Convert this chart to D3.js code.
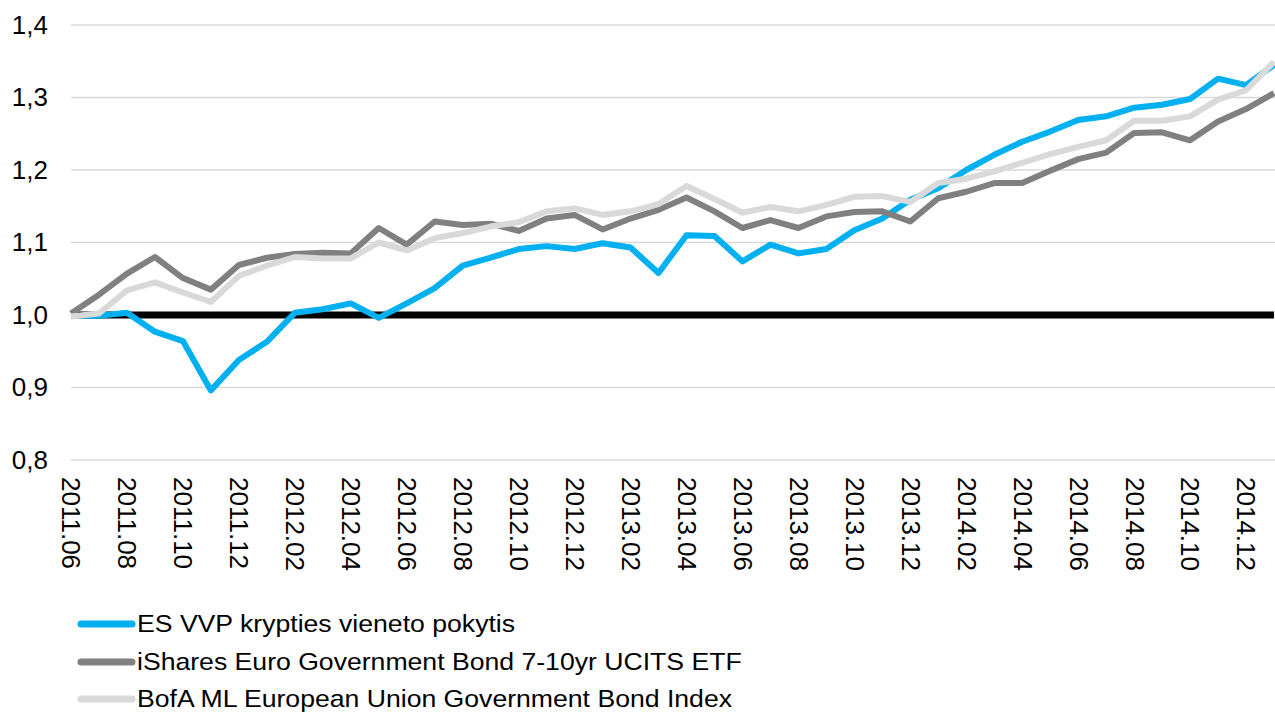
<!DOCTYPE html>
<html>
<head>
<meta charset="utf-8">
<script src="https://cdn.jsdelivr.net/npm/d3@7"></script>
<style>
  body { margin: 0; background: #fff; }
  text { font-family: "Liberation Sans", Arial, sans-serif; fill: #000; }
</style>
</head>
<body>
<div id="chart"></div>
<script>
// monthly categories, Jun 2011 - Jan 2015
const months = [
  "2011.06","2011.07","2011.08","2011.09","2011.10","2011.11","2011.12",
  "2012.01","2012.02","2012.03","2012.04","2012.05","2012.06","2012.07","2012.08","2012.09","2012.10","2012.11","2012.12",
  "2013.01","2013.02","2013.03","2013.04","2013.05","2013.06","2013.07","2013.08","2013.09","2013.10","2013.11","2013.12",
  "2014.01","2014.02","2014.03","2014.04","2014.05","2014.06","2014.07","2014.08","2014.09","2014.10","2014.11","2014.12",
  "2015.01"
];

const esVvp = [
  0.999, 0.999, 1.003, 0.977, 0.964, 0.896, 0.938, 0.963, 1.003, 1.008, 1.016, 0.996,
  1.016, 1.037, 1.068, 1.079, 1.091, 1.095, 1.091, 1.099, 1.093, 1.058, 1.110, 1.109,
  1.074, 1.097, 1.085, 1.091, 1.117, 1.133, 1.159, 1.175, 1.200, 1.221, 1.239, 1.253,
  1.269, 1.274, 1.286, 1.290, 1.298, 1.326, 1.317, 1.345
];

const iShares = [
  1.002, 1.028, 1.057, 1.080, 1.051, 1.035, 1.069, 1.079, 1.084, 1.086, 1.085, 1.120,
  1.097, 1.129, 1.124, 1.126, 1.116, 1.133, 1.138, 1.118, 1.133, 1.145, 1.162, 1.143,
  1.120, 1.131, 1.120, 1.136, 1.142, 1.143, 1.129, 1.161, 1.170, 1.182, 1.182, 1.199,
  1.215, 1.224, 1.251, 1.252, 1.241, 1.267, 1.284, 1.306
];

const bofa = [
  0.998, 1.002, 1.034, 1.045, 1.031, 1.018, 1.054, 1.068, 1.080, 1.078, 1.078, 1.100,
  1.089, 1.106, 1.113, 1.122, 1.128, 1.143, 1.147, 1.138, 1.143, 1.153, 1.178, 1.160,
  1.141, 1.149, 1.143, 1.152, 1.163, 1.164, 1.156, 1.182, 1.188, 1.198, 1.210, 1.222,
  1.232, 1.241, 1.268, 1.268, 1.274, 1.297, 1.310, 1.349
];

const seriesNames = [
  "ES VVP krypties vieneto pokytis",
  "iShares Euro Government Bond 7-10yr UCITS ETF",
  "BofA ML European Union Government Bond Index"
];
const seriesColors = ["#00b0f0", "#808080", "#d9d9d9"];
const yTicks = [0.8, 0.9, 1.0, 1.1, 1.2, 1.3, 1.4];
const baseline = 1.0;

const width = 1275, height = 713;
const margin = { left: 71, right: 1, top: 25, bottom: 253 };

const svg = d3.select("#chart").append("svg")
  .attr("width", width)
  .attr("height", height);

const x = d3.scalePoint()
  .domain(months)
  .range([margin.left, width - margin.right]);

const y = d3.scaleLinear()
  .domain([0.8, 1.4])
  .range([height - margin.bottom, margin.top]);

// gridlines
svg.append("g")
  .selectAll("line")
  .data(yTicks)
  .enter().append("line")
  .attr("x1", margin.left)
  .attr("x2", width)
  .attr("y1", d => y(d))
  .attr("y2", d => y(d))
  .attr("stroke", "#d9d9d9")
  .attr("stroke-width", 1.5);

// y axis labels
const yAxis = d3.axisLeft(y)
  .tickValues(yTicks)
  .tickSize(0)
  .tickPadding(0)
  .tickFormat(d => d3.format(".1f")(d).replace(".", ","));

svg.append("g")
  .attr("transform", "translate(48,0)")
  .call(yAxis)
  .call(g => g.select(".domain").remove())
  .selectAll("text")
  .style("font-family", "'Liberation Sans', Arial, sans-serif")
  .style("font-size", "26px")
  .attr("fill", "#000");

// x axis labels, every second month, rotated
const xAxis = d3.axisBottom(x)
  .tickValues(months.filter((m, i) => i % 2 === 0))
  .tickSize(0)
  .tickPadding(0);

svg.append("g")
  .attr("transform", `translate(0,${y(0.8) + 17})`)
  .call(xAxis)
  .call(g => g.select(".domain").remove())
  .selectAll("text")
  .style("font-family", "'Liberation Sans', Arial, sans-serif")
  .style("font-size", "26px")
  .attr("fill", "#000")
  .attr("text-anchor", "start")
  .attr("transform", "rotate(90)")
  .attr("x", 0)
  .attr("y", 0)
  .attr("dy", "0.35em");

// black 1.0 reference line
svg.append("line")
  .attr("x1", x(months[0]))
  .attr("x2", x(months[months.length - 1]))
  .attr("y1", y(baseline))
  .attr("y2", y(baseline))
  .attr("stroke", "#000")
  .attr("stroke-width", 7);

const line = d3.line()
  .x((d, i) => x(months[i]))
  .y(d => y(d));

[esVvp, iShares, bofa].forEach((vals, k) => {
  svg.append("path")
    .datum(vals)
    .attr("d", line)
    .attr("fill", "none")
    .attr("stroke", seriesColors[k])
    .attr("stroke-width", 6)
    .attr("stroke-linejoin", "round");
});

// legend
const legend = svg.append("g");
const legendY = [624, 662, 699];
seriesNames.forEach((name, k) => {
  legend.append("line")
    .attr("x1", 81).attr("x2", 132)
    .attr("y1", legendY[k]).attr("y2", legendY[k])
    .attr("stroke", seriesColors[k])
    .attr("stroke-width", 7)
    .attr("stroke-linecap", "round");
  legend.append("text")
    .attr("transform", `translate(137,${legendY[k]}) scale(1.1,1)`)
    .attr("dy", "0.35em")
    .style("font-size", "24.2px")
    .text(name);
});
</script>
</body>
</html>
